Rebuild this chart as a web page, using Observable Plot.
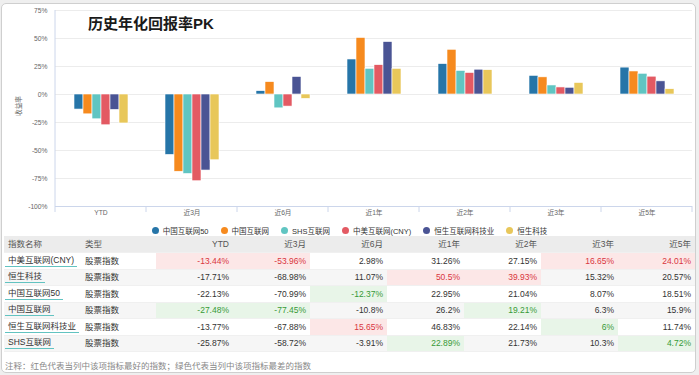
<!DOCTYPE html>
<html>
<head>
<meta charset="utf-8">
<script src="https://cdn.jsdelivr.net/npm/d3@7"></script>
<script src="https://cdn.jsdelivr.net/npm/@observablehq/plot@0.6"></script>
<style>
  html, body { margin: 0; padding: 0; }
  body { width: 699px; height: 375px; background: #efefef; position: relative; overflow: hidden;
         font-family: "Liberation Sans", "Noto Sans CJK SC", sans-serif; }
  #card { position: absolute; left: 1px; top: 3px; width: 693px; height: 368px; background: #fff;
          border: 1px solid #cfcfcf; border-radius: 5px; }
  #chart { position: absolute; left: 0; top: 0; }
  #title { position: absolute; left: 88px; top: 16px; font-size: 15px; line-height: 16px; font-weight: bold; color: #1a1a1a; }
  #ylabel { position: absolute; left: 18px; top: 106px; font-size: 6.7px; line-height: 7px; color: #666;
            transform: translate(-50%, -50%) rotate(-90deg); white-space: nowrap; }
  #legend { position: absolute; left: 0; top: 225px; width: 699px; height: 10px; display: flex; justify-content: center;
            align-items: center; gap: 12px; font-size: 7.5px; color: #333; }
  #legend .item { display: flex; align-items: center; }
  #legend .dot { width: 7px; height: 7px; border-radius: 50%; margin-right: 4px; }
  #tbl { position: absolute; left: 4px; top: 236px; width: 691px; border-collapse: collapse; table-layout: fixed;
         font-size: 8.5px; color: #333; }
  #tbl th, #tbl td { height: 16.5px; padding: 0 4px; line-height: 10px; white-space: nowrap; box-sizing: border-box;
                     border-bottom: 1px solid #f0f0f0; }
  #tbl th { background: #ececec; font-weight: normal; color: #555; text-align: left; }
  #tbl th.num, #tbl td.num { text-align: right; }
  #tbl tr.even td { background: #f6f6f6; }
  #tbl td.best { background: #fce7e7 !important; color: #d9363e; }
  #tbl td.worst { background: #e8f5e8 !important; color: #379a37; }
  #tbl .name { display: inline-block; padding: 0 3px 1px 3px; margin-left: -3px; border-bottom: 1px solid #62c3c1; }
  #note { position: absolute; left: 5px; top: 361px; font-size: 8.5px; line-height: 10px; color: #888; }
</style>
</head>
<body>
<div id="card"></div>
<div id="chart"></div>
<div id="title"></div>
<div id="ylabel"></div>
<div id="legend"></div>
<table id="tbl"></table>
<div id="note"></div>
<script>
// ---- data ----
const titleText = "历史年化回报率PK";
const yLabel = "收益率";
const periods = ["YTD", "近3月", "近6月", "近1年", "近2年", "近3年", "近5年"];
const yTicks = [75, 50, 25, 0, -25, -50, -75, -100];

// legend / bar series (colour order as in the chart)
const legendSeries = ["中国互联网50", "中国互联网", "SHS互联网", "中美互联网(CNY)", "恒生互联网科技业", "恒生科技"];
const seriesColors = ["#2675a8", "#f68a1e", "#60c5c2", "#e35a63", "#4a5494", "#e8c75a"];

// table rows
const tableNames = ["中美互联网(CNY)", "恒生科技", "中国互联网50", "中国互联网", "恒生互联网科技业", "SHS互联网"];
const tableTypes = ["股票指数", "股票指数", "股票指数", "股票指数", "股票指数", "股票指数"];
const row1 = [-13.44, -53.96, 2.98, 31.26, 27.15, 16.65, 24.01];
const row2 = [-17.71, -68.98, 11.07, 50.5, 39.93, 15.32, 20.57];
const row3 = [-22.13, -70.99, -12.37, 22.95, 21.04, 8.07, 18.51];
const row4 = [-27.48, -77.45, -10.8, 26.2, 19.21, 6.3, 15.9];
const row5 = [-13.77, -67.88, 15.65, 46.83, 22.14, 6, 11.74];
const row6 = [-25.87, -58.72, -3.91, 22.89, 21.73, 10.3, 4.72];
const tableRows = [row1, row2, row3, row4, row5, row6];
const headNames = ["指数名称", "类型"];
const noteText = "注释：红色代表当列中该项指标最好的指数；绿色代表当列中该项指标最差的指数";

// bars: the i-th coloured series in the picture carries the i-th table row
const data = [];
legendSeries.forEach((s, i) => periods.forEach((p, j) => data.push({series: s, period: p, value: tableRows[i][j]})));

const FONT = '"Liberation Sans", "Noto Sans CJK SC", sans-serif';

const plot = Plot.plot({
  width: 699,
  height: 222,
  marginLeft: 55,
  marginRight: 7,
  marginTop: 10,
  marginBottom: 16,
  style: {fontSize: "6.7px", fontFamily: FONT, color: "#666", background: "transparent", overflow: "visible"},
  facet: {data, x: "period"},
  fx: {domain: periods, padding: 0, axis: "bottom", label: null, tickSize: 0, tickPadding: 4},
  x: {domain: legendSeries, axis: null, paddingInner: 0.04, paddingOuter: 1.86},
  y: {domain: [-100, 75], ticks: yTicks, tickFormat: d => d + "%", tickSize: 0, tickPadding: 8, label: null},
  color: {domain: legendSeries, range: seriesColors},
  marks: [
    Plot.ruleY(yTicks.filter(t => t > -100), {stroke: "#ececec"}),
    Plot.ruleY([-100], {stroke: "#ccd6eb"}),
    Plot.barY(data, {x: "series", y: "value", fill: "series", stroke: "#fff", strokeWidth: 0.6})
  ]
});
document.getElementById("chart").appendChild(plot);

// band separators under the axis and the left axis line, from Plot's own scales
const svgEl = plot.tagName.toLowerCase() === "svg" ? plot : plot.querySelector("svg");
const fxs = plot.scale("fx"), ys = plot.scale("y");
const g = d3.select(svgEl).append("g").attr("stroke", "#ccd6eb");
const yBase = ys.apply(-100);
const edges = periods.map(p => fxs.apply(p)).concat([fxs.apply(periods[periods.length - 1]) + fxs.bandwidth]);
edges.forEach((x, i) => {
  g.append("line").attr("x1", x).attr("x2", x)
    .attr("y1", i === 0 ? ys.apply(75) : yBase).attr("y2", yBase + 6);
});

// title and y label
document.getElementById("title").textContent = titleText;
document.getElementById("ylabel").textContent = yLabel;

// legend
const legend = d3.select("#legend");
legendSeries.forEach((s, i) => {
  const it = legend.append("div").attr("class", "item");
  it.append("span").attr("class", "dot").style("background", seriesColors[i]);
  it.append("span").text(s);
});

// table
const tbl = d3.select("#tbl");
const cg = tbl.append("colgroup");
cg.append("col").style("width", "77px");
cg.append("col").style("width", "75px");
periods.forEach(() => cg.append("col").style("width", "77px"));
const hr = tbl.append("thead").append("tr");
headNames.forEach(h => hr.append("th").text(h));
periods.forEach(p => hr.append("th").attr("class", "num").text(p));
const colMax = periods.map((_, j) => d3.max(tableRows, r => r[j]));
const colMin = periods.map((_, j) => d3.min(tableRows, r => r[j]));
const tb = tbl.append("tbody");
tableRows.forEach((r, i) => {
  const tr = tb.append("tr").attr("class", i % 2 ? "even" : "odd");
  tr.append("td").append("span").attr("class", "name").text(tableNames[i]);
  tr.append("td").text(tableTypes[i]);
  r.forEach((v, j) => {
    const cls = "num" + (v === colMax[j] ? " best" : v === colMin[j] ? " worst" : "");
    tr.append("td").attr("class", cls).text(v + "%");
  });
});

document.getElementById("note").textContent = noteText;
</script>
</body>
</html>
